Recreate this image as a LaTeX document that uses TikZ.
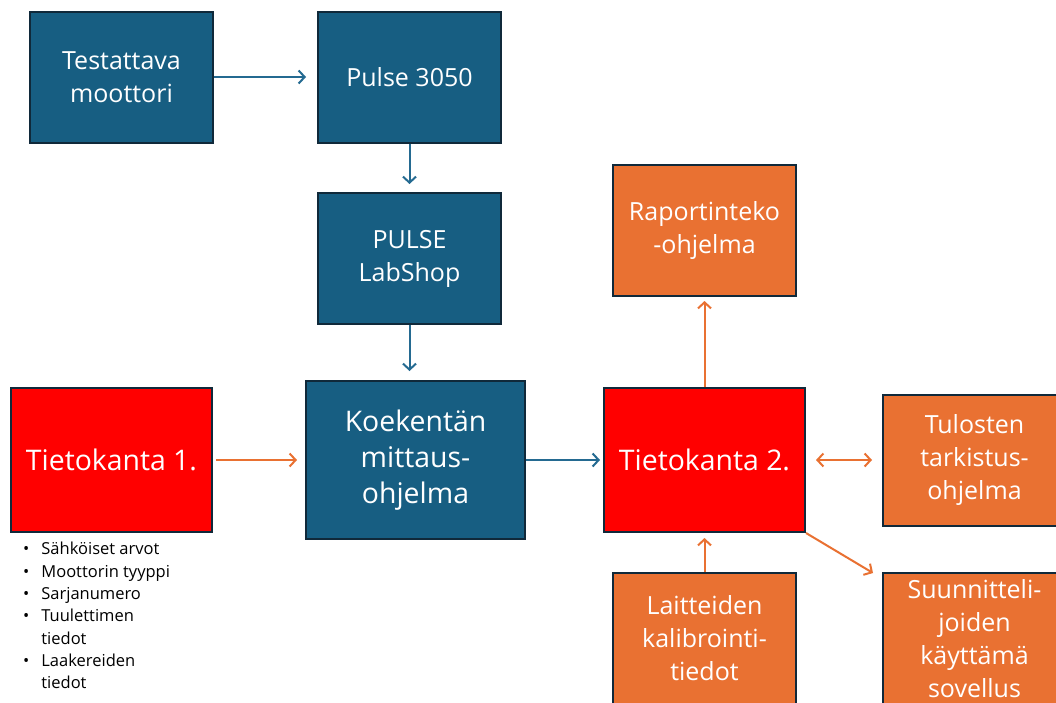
\documentclass[tikz,border=0pt]{standalone}
\usepackage{fontspec}
\setmainfont{Open Sans}
\usetikzlibrary{arrows.meta}
\definecolor{boxblue}{HTML}{175E82}
\definecolor{boxline}{HTML}{10293A}
\definecolor{boxorange}{HTML}{E97132}
\definecolor{boxred}{HTML}{FF0000}
\definecolor{arrblue}{HTML}{246A91}
\tikzset{
  stage/.style={draw=boxline, line width=2pt, text=white, align=center,
    minimum width=183pt, minimum height=131pt, inner sep=0pt,
    font=\fontsize{25}{33}\selectfont},
  bluebox/.style={stage, fill=boxblue},
  orangebox/.style={stage, fill=boxorange},
  redbox/.style={stage, fill=boxred, minimum width=201pt, minimum height=144pt,
    font=\fontsize{28.4}{36}\selectfont},
  flow/.style={-{Straight Barb[length=6pt,width=13pt]}, line width=2pt},
  flowboth/.style={{Straight Barb[length=6pt,width=13pt]}-{Straight Barb[length=6pt,width=13pt]}, line width=2pt},
}
\begin{document}
\begin{tikzpicture}[x=1pt, y=-1pt]
\clip (0,0) rectangle (1056,702);
\fill[white] (0,0) rectangle (1056,702);

% measurement chain
\node[bluebox] (test) at (121.5,77) {Testattava\\moottori};
\node[bluebox] (pulse) at (409.5,77) {Pulse 3050};
\node[bluebox] (labshop) at (409.5,258.5) {PULSE\\LabShop};
\node[bluebox, minimum width=219pt, minimum height=158pt,
  font=\fontsize{28.4}{36}\selectfont] (koe) at (415.5,460) {Koekentän\\mittaus-\\ohjelma};

% databases
\node[redbox] (tk1) at (111.5,460) {Tietokanta 1.};
\node[redbox] (tk2) at (704.5,460) {Tietokanta 2.};

% programs around database 2
\node[orangebox] (rap) at (704.5,230.5) {Raportinteko\\-ohjelma};
\node[orangebox] (tul) at (974.5,460) {Tulosten\\tarkistus-\\ohjelma};
\node[orangebox] (lai) at (704.5,638.5) {Laitteiden\\kalibrointi-\\tiedot};
\node[orangebox] (suu) at (974.5,638.5) {Suunnitteli-\\joiden\\käyttämä\\sovellus};

% contents of database 1
\node[anchor=north west, inner sep=0pt, align=left,
  font=\fontsize{16.5}{22.3}\selectfont] (tk1list) at (23,539)
  {\begin{tabular}{@{}l@{\hspace{12pt}}l@{}}
   \textbullet & Sähköiset arvot\\
   \textbullet & Moottorin tyyppi\\
   \textbullet & Sarjanumero\\
   \textbullet & Tuulettimen\\
               & tiedot\\
   \textbullet & Laakereiden\\
               & tiedot
   \end{tabular}};

\coordinate (suuin) at (873,573);

\draw[flow, arrblue, shorten >=11pt] (test) -- (pulse);
\draw[flow, arrblue, shorten >=8pt] (pulse) -- (labshop);
\draw[flow, arrblue, shorten >=9pt] (labshop.south) -- (labshop.south |- koe.north);
\draw[flow, boxorange, shorten <=3pt, shorten >=8pt] (tk1) -- (koe);
\draw[flow, arrblue, shorten >=3pt] (koe) -- (tk2);
\draw[flow, boxorange, shorten >=4pt] (tk2) -- (rap);
\draw[flowboth, boxorange, shorten <=10pt, shorten >=10pt] (tk2) -- (tul);
\draw[flow, boxorange] (tk2.south east) -- (suuin);
\draw[flow, boxorange, shorten >=5pt] (lai) -- (tk2);
\end{tikzpicture}
\end{document}
